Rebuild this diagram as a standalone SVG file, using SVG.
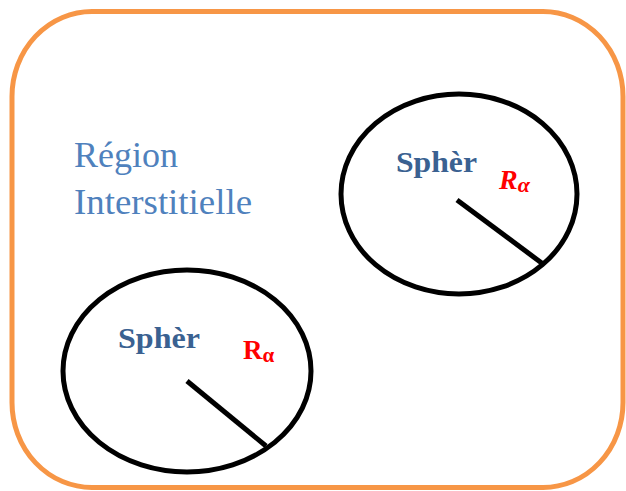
<svg xmlns="http://www.w3.org/2000/svg" width="626" height="491" viewBox="0 0 626 491">
<style>
.frame{fill:none;stroke:#F79646;stroke-width:5}
.sphere{fill:none;stroke:#000;stroke-width:5}
.rad{stroke:#000;stroke-width:5;stroke-linecap:butt}
.lbl{font-family:"Liberation Serif","Times New Roman",serif;font-weight:bold;fill:#3A6191;font-size:30px}
.region{font-family:"Liberation Serif","Times New Roman",serif;fill:#4F81BD;font-size:35px}
.r{font-family:"Liberation Serif","Times New Roman",serif;font-weight:bold;fill:#FF0000}
</style>
<rect width="626" height="491" fill="#fff"/>
<g id="region">
<rect class="frame" x="12" y="11.5" width="611" height="476" rx="80" ry="85"/>
<text class="region" x="74" y="167" textLength="104" lengthAdjust="spacingAndGlyphs">Région</text>
<text class="region" x="74" y="214" textLength="178" lengthAdjust="spacingAndGlyphs">Interstitielle</text>
</g>
<g id="sphere1">
<ellipse class="sphere" cx="459" cy="194" rx="118" ry="100"/>
<text class="lbl" x="396" y="172" textLength="81" lengthAdjust="spacingAndGlyphs">Sphèr</text>
<text class="r" x="499" y="189" font-size="28" font-style="italic">R<tspan font-size="22" dy="3">α</tspan></text>
</g>
<g id="sphere2">
<ellipse class="sphere" cx="187" cy="371" rx="124" ry="101"/>
<text class="lbl" x="118" y="348" textLength="82" lengthAdjust="spacingAndGlyphs">Sphèr</text>
<text class="r" x="243" y="359" font-size="27">R<tspan font-size="21" dy="3">α</tspan></text>
</g>
<g id="connectors">
<line class="rad" x1="457" y1="200" x2="543" y2="264"/>
<line class="rad" x1="187" y1="381" x2="266" y2="446"/>
</g>
</svg>
